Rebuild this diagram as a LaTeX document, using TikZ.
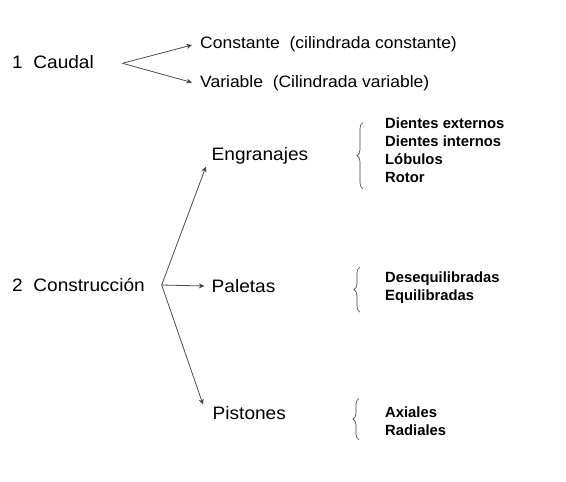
\documentclass[tikz,border=0pt]{standalone}
\usepackage{fontspec}
\setmainfont{Liberation Sans}[FakeStretch=1.06]
\newfontfamily\listfont{Liberation Sans}
\usetikzlibrary{arrows.meta,decorations.pathreplacing}
\begin{document}
\begin{tikzpicture}[x=1pt,y=-1pt,
  big/.style={inner sep=0pt,anchor=base west,font=\fontsize{18}{21}\selectfont},
  mid/.style={inner sep=0pt,anchor=base west,font=\fontsize{16.5}{19}\selectfont},
  lst/.style={inner sep=0pt,anchor=north west,align=left,
    font=\listfont\bfseries\fontsize{14.8}{18}\selectfont},
  conn/.style={draw=black!70,line width=0.8pt,-{Stealth[length=5.5pt,width=5pt,inset=1.5pt,fill=black]}},
  brc/.style={draw=black!75,line width=0.6pt,decorate,
    decoration={brace,amplitude=6pt}}]
\useasboundingbox (0,0) rectangle (566,482);
% Caudal
\node[big] (cau) at (12,68) {1\ \ Caudal};
\coordinate (f1) at (122.5,63.3);
\node[mid] (con) at (200,48) {Constante\ \ (cilindrada constante)};
\node[mid] (var) at (200,87) {Variable\ \ (Cilindrada variable)};
\draw[conn] (f1) -- ([shift={(-8,-3)}]con.base west);
\draw[conn] (f1) -- ([shift={(-8,-4.5)}]var.base west);
% Construccion
\node[big] (cons) at (12,291) {2\ \ Construcción};
\coordinate (f2) at (161.7,285);
\node[big] (eng) at (211.5,160) {Engranajes};
\node[big] (pal) at (211.5,292) {Paletas};
\node[big] (pis) at (212.5,419) {Pistones};
\draw[conn] (f2) -- ([shift={(-5.5,6.5)}]eng.base west);
\draw[conn] (f2) -- ([shift={(-7,-6)}]pal.base west);
\draw[conn] (f2) -- ([shift={(-9.5,-14.5)}]pis.base west);
% lists
\node[lst] (l1) at (385,117.5) {Dientes externos\\Dientes internos\\Lóbulos\\Rotor};
\node[lst] (l2) at (385,272) {Desequilibradas\\Equilibradas};
\node[lst] (l3) at (385,406.5) {Axiales\\Radiales};
\draw[brc] ([shift={(-22,6)}]l1.south west) -- ([shift={(-22,5)}]l1.north west);
\draw[brc] ([shift={(-25,8)}]l2.south west) -- ([shift={(-25,-5)}]l2.north west);
\draw[brc] ([shift={(-26,4)}]l3.south west) -- ([shift={(-26,-8)}]l3.north west);
\end{tikzpicture}
\end{document}
